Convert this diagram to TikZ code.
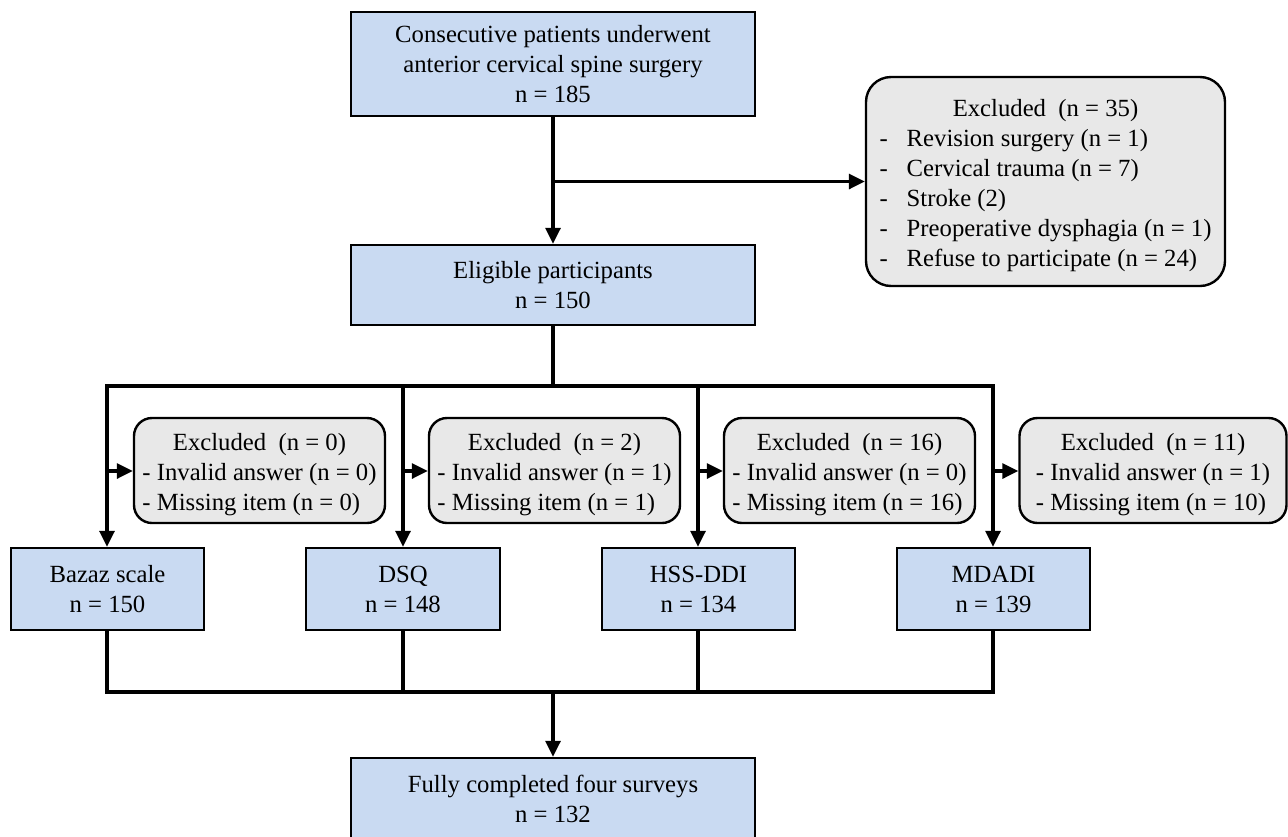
\documentclass[tikz,border=0pt]{standalone}
\usepackage{fontspec}
\setmainfont{Liberation Serif}
\usetikzlibrary{arrows.meta}
\definecolor{boxblue}{HTML}{C9DAF2}
\definecolor{boxgray}{HTML}{E8E8E8}
\tikzset{
  bluebox/.style={draw=black, line width=2.4pt, fill=boxblue, align=center, inner sep=0pt,
    font=\fontsize{24.7}{30}\selectfont},
  graybox/.style={draw=black, line width=2.4pt, fill=boxgray, rounded corners=18pt, inner sep=0pt,
    font=\fontsize{24.7}{30}\selectfont},
  conn/.style={line width=3.2pt, line cap=rect},
  arr/.style={line width=3.2pt, -{Triangle[length=16pt,width=15pt]}}
}
\newcommand{\lowerby}[2]{\raisebox{-#1}[\dimexpr\height+#1\relax][\dimexpr\depth-#1\relax]{#2}}
\newcommand{\exlist}[3]{\lowerby{2pt}{\begin{tabular}{@{}l@{}}\multicolumn{1}{@{}c@{}}{Excluded\ \ (n = #1)}\\- Invalid answer (n = #2)\\- Missing item (n = #3)\end{tabular}}}
\begin{document}
\begin{tikzpicture}[x=1pt,y=-1pt]
\useasboundingbox (0,0) rectangle (1288,836);
\begin{scope}
\clip (0,0) rectangle (1288,836);
\node[bluebox, minimum width=404pt, minimum height=104pt] (top) at (553,64) {\lowerby{1pt}{\begin{tabular}{@{}c@{}}Consecutive patients underwent\\anterior cervical spine surgery\\n = 185\end{tabular}}};
\node[graybox, minimum width=359pt, minimum height=209pt, rounded corners=25pt] (excl) at (1045.5,181.5)
  {\lowerby{2pt}{\begin{tabular}{@{}l@{\hspace{19pt}}l@{}}\multicolumn{2}{@{}c@{}}{Excluded\ \ (n = 35)}\\
  -&Revision surgery (n = 1)\\
  -&Cervical trauma (n = 7)\\
  -&Stroke (2)\\
  -&Preoperative dysphagia (n = 1)\\
  -&Refuse to participate (n = 24)\end{tabular}}};
\node[bluebox, minimum width=404pt, minimum height=80pt] (elig) at (553,285) {Eligible participants\\n = 150};

\node[graybox, minimum width=251pt, minimum height=105pt] (s1) at (259.5,470.5) {\exlist{0}{0}{0}};
\node[graybox, minimum width=251pt, minimum height=105pt] (s2) at (554.5,470.5) {\exlist{2}{1}{1}};
\node[graybox, minimum width=251pt, minimum height=105pt] (s3) at (849.5,470.5) {\exlist{16}{0}{16}};
\node[graybox, minimum width=267pt, minimum height=105pt] (s4) at (1153,470.5) {\exlist{11}{1}{10}};

\node[bluebox, minimum width=193pt, minimum height=82pt] (b1) at (107.5,589) {Bazaz scale\\n = 150};
\node[bluebox, minimum width=194pt, minimum height=82pt] (b2) at (403,589) {DSQ\\n = 148};
\node[bluebox, minimum width=193pt, minimum height=82pt] (b3) at (698.5,589) {HSS-DDI\\n = 134};
\node[bluebox, minimum width=193pt, minimum height=82pt] (b4) at (993.5,589) {MDADI\\n = 139};

\node[bluebox, minimum width=404pt, minimum height=82pt] (fin) at (553,799) {Fully completed four surveys\\n = 132};

\coordinate (j0) at (553,181.5);
\coordinate (j1) at (553,386);
\coordinate (h1) at (107,386);
\coordinate (h2) at (403,386);
\coordinate (h3) at (698,386);
\coordinate (h4) at (993,386);
\coordinate (k1) at (107,471);
\coordinate (k2) at (403,471);
\coordinate (k3) at (698,471);
\coordinate (k4) at (993,471);
\coordinate (m1) at (107,692);
\coordinate (m2) at (403,692);
\coordinate (m3) at (698,692);
\coordinate (m4) at (993,692);
\coordinate (mc) at (553,692);

\draw[arr] (top.south) -- (elig.north);
\draw[arr] (j0) -- (excl.west);
\draw[conn] (elig.south) -- (j1);
\draw[conn] (h1) -- (h4);
\draw[arr] (h1) -- (b1.north -| h1);
\draw[arr] (h2) -- (b2.north -| h2);
\draw[arr] (h3) -- (b3.north -| h3);
\draw[arr] (h4) -- (b4.north -| h4);
\draw[arr] (k1) -- (s1.west |- k1);
\draw[arr] (k2) -- (s2.west |- k2);
\draw[arr] (k3) -- (s3.west |- k3);
\draw[arr] (k4) -- (s4.west |- k4);
\draw[conn] (b1.south -| m1) -- (m1) -- (m4) -- (b4.south -| m4);
\draw[conn] (b2.south -| m2) -- (m2);
\draw[conn] (b3.south -| m3) -- (m3);
\draw[arr] (mc) -- (fin.north);
\end{scope}
\end{tikzpicture}
\end{document}
